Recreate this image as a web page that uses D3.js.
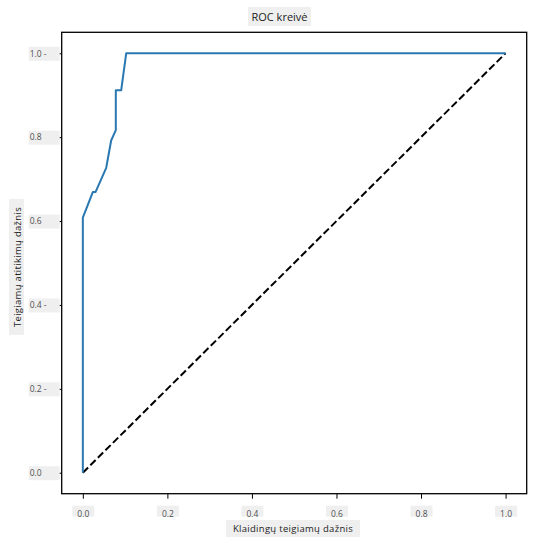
<!DOCTYPE html>
<html>
<head>
<meta charset="utf-8">
<script src="https://cdn.jsdelivr.net/npm/d3@7"></script>
<style>
  html, body { margin: 0; padding: 0; background: #fff; }
  svg { display: block; font-family: "Open Sans", "Noto Sans", sans-serif; }
</style>
</head>
<body>
<svg id="chart" width="536" height="547"></svg>
<script>
// ROC curve points
const fpr = [0, 0, 0.0236, 0.030, 0.0553, 0.067, 0.078, 0.078, 0.0908, 0.1026, 1.0];
const tpr = [0, 0.608, 0.669, 0.669, 0.727, 0.792, 0.817, 0.912, 0.912, 1.0, 1.0];
const diagX = [0, 1];
const diagY = [0, 1];
const xTicks = [0.0, 0.2, 0.4, 0.6, 0.8, 1.0];
const yTicks = [0.0, 0.2, 0.4, 0.6, 0.8, 1.0];
const yTickLabels = ["0.0", "0.2 -", "0.4 -", "0.6", "0.8", "1.0 -"];
const titleText = "ROC kreivė";
const xLabelText = "Klaidingų teigiamų dažnis";
const yLabelText = "Teigiamų atitikimų dažnis";

const svg = d3.select("#chart");
const box = { left: 61.7, right: 526.7, top: 32.3, bottom: 493.7 };

const x = d3.scaleLinear().domain([-0.05, 1.05]).range([box.left, box.right]);
const y = d3.scaleLinear().domain([-0.05, 1.05]).range([box.bottom, box.top]);

const labelBg = "#efefef";
const labelColor = "#505050";

// frame
svg.append("rect")
  .attr("x", box.left).attr("y", box.top)
  .attr("width", box.right - box.left).attr("height", box.bottom - box.top)
  .attr("fill", "none").attr("stroke", "#000").attr("stroke-width", 1.3);

// x axis
const xAxis = svg.append("g")
  .attr("transform", `translate(0,${box.bottom})`)
  .call(d3.axisBottom(x).tickValues(xTicks).tickFormat(d3.format(".1f")).tickSize(5).tickPadding(12));
xAxis.select(".domain").remove();
xAxis.selectAll(".tick line").attr("stroke", "#000").attr("stroke-width", 1);
xAxis.selectAll(".tick text").attr("fill", labelColor).attr("font-size", 8.5)
  .attr("font-family", "'Open Sans', sans-serif");
xAxis.selectAll(".tick").each(function() {
  const t = d3.select(this);
  t.insert("rect", "text")
    .attr("x", -11).attr("y", 12).attr("width", 22).attr("height", 11)
    .attr("fill", labelBg);
});

// y axis
const yAxis = svg.append("g")
  .attr("transform", `translate(${box.left},0)`)
  .call(d3.axisLeft(y).tickValues(yTicks).tickFormat((d, i) => yTickLabels[i]).tickSize(3.5).tickPadding(20));
yAxis.select(".domain").remove();
yAxis.selectAll(".tick line").attr("stroke", "#000").attr("stroke-width", 1);
yAxis.selectAll(".tick text").attr("fill", labelColor).attr("font-size", 8.5)
  .attr("text-anchor", "start").attr("x", -32)
  .attr("font-family", "'Open Sans', sans-serif");
yAxis.selectAll(".tick").each(function() {
  const t = d3.select(this);
  t.insert("rect", "text")
    .attr("x", -33).attr("y", -7).attr("width", 31).attr("height", 14)
    .attr("fill", labelBg);
});

// diagonal
const line = d3.line().x(d => x(d[0])).y(d => y(d[1]));
svg.append("path")
  .datum(d3.zip(diagX, diagY))
  .attr("d", line)
  .attr("fill", "none").attr("stroke", "#000").attr("stroke-width", 2)
  .attr("stroke-dasharray", "7.4,3.2");

// ROC curve
svg.append("path")
  .datum(d3.zip(fpr, tpr))
  .attr("d", line)
  .attr("fill", "none").attr("stroke", "#2a78b2").attr("stroke-width", 2)
  .attr("stroke-linejoin", "round");

// title
svg.append("rect").attr("x", 248).attr("y", 7).attr("width", 63).attr("height", 19).attr("fill", labelBg);
svg.append("text").attr("x", 279.5).attr("y", 20.5).attr("text-anchor", "middle")
  .attr("font-size", 11).attr("fill", "#222").text(titleText);

// x label
svg.append("rect").attr("x", 226).attr("y", 520).attr("width", 134).attr("height", 17).attr("fill", labelBg);
svg.append("text").attr("x", 293).attr("y", 532).attr("text-anchor", "middle")
  .attr("font-size", 9.5).attr("fill", "#222").attr("letter-spacing", 0.3).text(xLabelText);

// y label
svg.append("g").attr("transform", "translate(17,267) rotate(-90)")
  .call(g => {
    g.append("rect").attr("x", -68).attr("y", -8).attr("width", 136).attr("height", 15).attr("fill", labelBg);
    g.append("text").attr("x", 0).attr("y", 3.5).attr("text-anchor", "middle")
      .attr("font-size", 9.5).attr("fill", "#222").attr("letter-spacing", 0.3).text(yLabelText);
  });
</script>
</body>
</html>
